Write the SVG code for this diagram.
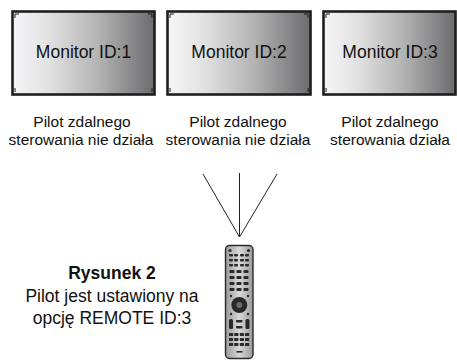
<svg xmlns="http://www.w3.org/2000/svg" width="457" height="361" viewBox="0 0 457 361">
  <style>
    .frame { fill: url(#screen); stroke: #1e1e1e; stroke-width: 2.6; }
    .tick { stroke: #1e1e1e; stroke-width: 1; fill: none; }
    .mlabel { font-family: "Liberation Sans", Arial, sans-serif; font-size: 17.5px; fill: #111; text-anchor: middle; }
    .cap { font-family: "Liberation Sans", Arial, sans-serif; font-size: 15.5px; fill: #111; text-anchor: middle; }
    .note { font-family: "Liberation Sans", Arial, sans-serif; font-size: 17.5px; fill: #111; text-anchor: middle; }
    .ray { stroke: #222; stroke-width: 1; fill: none; }
    .btn { fill: #2a2a2a; }
    .btnl { fill: #8a8a8a; }
  </style>
  <defs>
    <linearGradient id="screen" x1="0" y1="0" x2="1" y2="0">
      <stop offset="0" stop-color="#f6f6f8"/>
      <stop offset="0.25" stop-color="#e2e2e3"/>
      <stop offset="0.6" stop-color="#b4b4b5"/>
      <stop offset="1" stop-color="#6c6c6e"/>
    </linearGradient>
    <linearGradient id="body" x1="0" y1="0" x2="1" y2="0">
      <stop offset="0" stop-color="#9a9a9a"/>
      <stop offset="0.5" stop-color="#d8d8d8"/>
      <stop offset="1" stop-color="#9a9a9a"/>
    </linearGradient>
    <g id="corners">
      <path class="tick" d="M3 3 v3 M3 3 h3"/>
    </g>
  </defs>

  <g id="monitor1">
    <rect class="frame" x="12.5" y="11.5" width="142" height="83"/>
    <path class="tick" d="M15 14 v4 M15 14 h4 M152 14 v4 M152 14 h-4 M15 92 v-4 M152 92 v-4"/>
    <text class="mlabel" x="83.5" y="57.5">Monitor ID:1</text>
  </g>

  <g id="monitor2">
    <rect class="frame" x="167.5" y="11.5" width="143" height="83"/>
    <path class="tick" d="M170 14 v4 M170 14 h4 M308 14 v4 M308 14 h-4 M170 92 v-4 M308 92 v-4"/>
    <text class="mlabel" x="239" y="57.5">Monitor ID:2</text>
  </g>

  <g id="monitor3">
    <rect class="frame" x="323.5" y="11.5" width="132" height="83"/>
    <path class="tick" d="M326 14 v4 M326 14 h4 M326 92 v-4"/>
    <text class="mlabel" x="390" y="57.5">Monitor ID:3</text>
  </g>

  <g id="label1">
    <text class="cap" x="82" y="127">Pilot zdalnego</text>
    <text class="cap" x="81" y="145">sterowania nie działa</text>
  </g>
  <g id="label2">
    <text class="cap" x="238" y="127">Pilot zdalnego</text>
    <text class="cap" x="238" y="145">sterowania nie działa</text>
  </g>
  <g id="label3">
    <text class="cap" x="390" y="127">Pilot zdalnego</text>
    <text class="cap" x="390" y="145">sterowania działa</text>
  </g>

  <g id="connectors">
    <line class="ray" x1="203" y1="174" x2="239.5" y2="237"/>
    <line class="ray" x1="239.5" y1="173" x2="239.5" y2="237"/>
    <line class="ray" x1="277" y1="174" x2="239.5" y2="237"/>
  </g>

  <g id="remote">
    <rect x="225.5" y="245.5" width="27.5" height="113" rx="4" fill="url(#body)" stroke="#2a2a2a" stroke-width="1.4"/>
    <!-- top buttons -->
    <circle cx="230" cy="250.5" r="1.6" class="btn"/>
    <circle cx="248.5" cy="250.5" r="1.6" class="btn"/>
    <!-- upper button rows -->
    <g class="btn">
      <rect x="229" y="254" width="4" height="2.4" rx="0.8"/>
      <rect x="234" y="254" width="4" height="2.4" rx="0.8"/>
      <rect x="240" y="254" width="4" height="2.4" rx="0.8"/>
      <rect x="245" y="254" width="4" height="2.4" rx="0.8"/>
      <rect x="229" y="259" width="4" height="2.4" rx="0.8"/>
      <rect x="234" y="259" width="4" height="2.4" rx="0.8"/>
      <rect x="240" y="259" width="4" height="2.4" rx="0.8"/>
      <rect x="245" y="259" width="4" height="2.4" rx="0.8"/>
      <rect x="229" y="264" width="4" height="2.4" rx="0.8"/>
      <rect x="234" y="264" width="4" height="2.4" rx="0.8"/>
      <rect x="240" y="264" width="4" height="2.4" rx="0.8"/>
      <rect x="245" y="264" width="4" height="2.4" rx="0.8"/>
      <rect x="229.5" y="270" width="5" height="3" rx="0.8"/>
      <rect x="236.5" y="270" width="5" height="3" rx="0.8"/>
      <rect x="243.5" y="270" width="5" height="3" rx="0.8"/>
      <rect x="229.5" y="276" width="5" height="3" rx="0.8"/>
      <rect x="236.5" y="276" width="5" height="3" rx="0.8"/>
      <rect x="243.5" y="276" width="5" height="3" rx="0.8"/>
      <rect x="229.5" y="282" width="5" height="3" rx="0.8"/>
      <rect x="236.5" y="282" width="5" height="3" rx="0.8"/>
      <rect x="243.5" y="282" width="5" height="3" rx="0.8"/>
      <rect x="229.5" y="288" width="5" height="3" rx="0.8"/>
      <rect x="236.5" y="288" width="5" height="3" rx="0.8"/>
      <rect x="243.5" y="288" width="5" height="3" rx="0.8"/>
    </g>
    <!-- navigation pad -->
    <circle cx="239.3" cy="305" r="8" class="btn"/>
    <circle cx="239.3" cy="305" r="3" fill="#6a6a6a"/>
    <circle cx="231" cy="296" r="1.2" class="btn"/>
    <circle cx="248" cy="296" r="1.2" class="btn"/>
    <circle cx="231" cy="314" r="1.2" class="btn"/>
    <circle cx="248" cy="314" r="1.2" class="btn"/>
    <!-- volume / channel rockers -->
    <g class="btn">
      <rect x="229" y="319" width="4" height="10" rx="1.5"/>
      <rect x="245.5" y="319" width="4" height="10" rx="1.5"/>
      <rect x="236" y="320" width="6.5" height="2.4" rx="0.8"/>
      <rect x="236" y="326" width="6.5" height="2.4" rx="0.8"/>
    </g>
    <!-- lower button rows -->
    <g class="btn">
      <rect x="229" y="333" width="4.2" height="3" rx="0.6"/>
      <rect x="234.2" y="333" width="4.2" height="3" rx="0.6"/>
      <rect x="239.8" y="333" width="4.2" height="3" rx="0.6"/>
      <rect x="245" y="333" width="4.2" height="3" rx="0.6"/>
      <rect x="229" y="338" width="4.2" height="3" rx="0.6"/>
      <rect x="234.2" y="338" width="4.2" height="3" rx="0.6"/>
      <rect x="239.8" y="338" width="4.2" height="3" rx="0.6"/>
      <rect x="245" y="338" width="4.2" height="3" rx="0.6"/>
      <rect x="229" y="343" width="4.2" height="3" rx="0.6"/>
      <rect x="234.2" y="343" width="4.2" height="3" rx="0.6"/>
      <rect x="239.8" y="343" width="4.2" height="3" rx="0.6"/>
      <rect x="245" y="343" width="4.2" height="3" rx="0.6"/>
    </g>
    <rect x="236.5" y="351" width="6" height="1.6" class="btn"/>
  </g>

  <g id="caption">
    <text class="note" x="112" y="279" font-weight="bold">Rysunek 2</text>
    <text class="note" x="112" y="302">Pilot jest ustawiony na</text>
    <text class="note" x="112" y="324">opcję REMOTE ID:3</text>
  </g>
</svg>
